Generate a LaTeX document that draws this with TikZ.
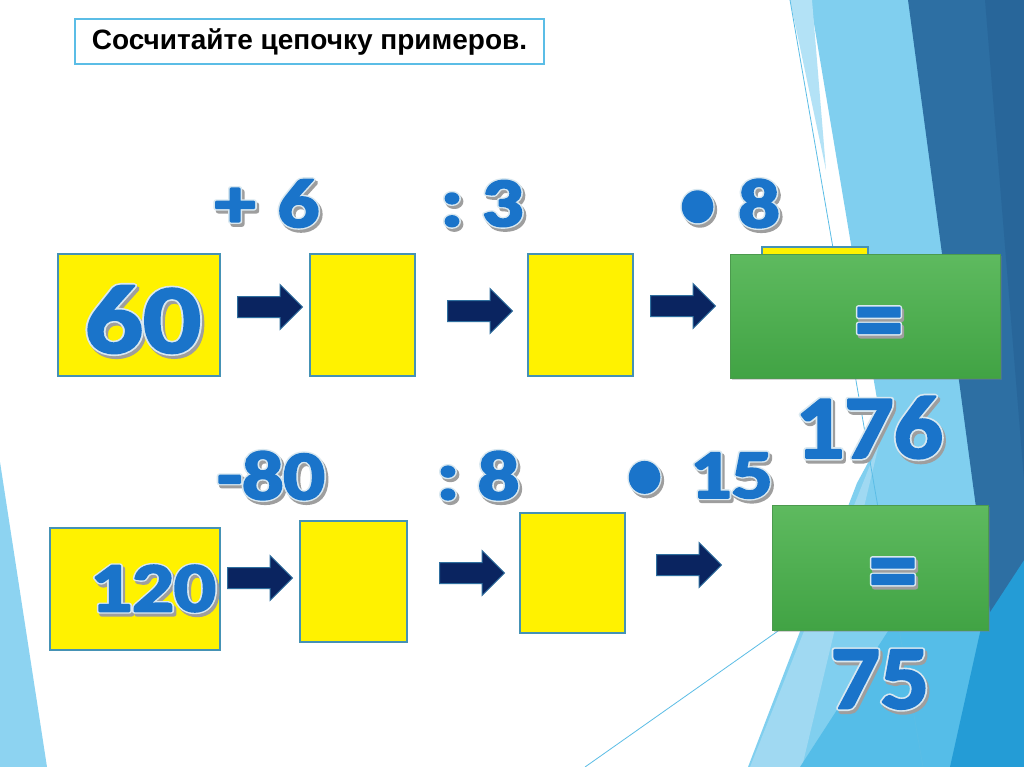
\documentclass[tikz,border=0pt]{standalone}
\usepackage{fontspec}
\usepackage{graphicx}
\newfontfamily\numfont{Carlito}
\newfontfamily\titlefont{Liberation Sans}
\usetikzlibrary{shapes.arrows,shadows}
\definecolor{numblue}{HTML}{1A74CA}
\definecolor{edgec}{HTML}{D9E8F0}
\definecolor{shadc}{HTML}{9E9E9E}
\definecolor{bgA}{HTML}{B3E2F6}
\definecolor{bgB}{HTML}{80CFEF}
\definecolor{bgC}{HTML}{A0D9F2}
\definecolor{bgD}{HTML}{55BDE8}
\definecolor{bgE}{HTML}{249CD6}
\definecolor{bgF}{HTML}{2D6FA3}
\definecolor{bgG}{HTML}{28669A}
\definecolor{bgL}{HTML}{8DD3F1}
\definecolor{lineC}{HTML}{5BBDE6}
\definecolor{ybord}{HTML}{4592B5}
\definecolor{navy}{HTML}{0A2460}
\definecolor{arredge}{HTML}{2F6F9F}
\definecolor{gtop}{HTML}{5EBA5F}
\definecolor{gbot}{HTML}{41A344}
\definecolor{gbord}{HTML}{4C9A4E}
% shadow, light outline below, emboldened blue text on top
\newcommand\fxt[2]{%
  \rlap{\kern2pt\raisebox{-3pt}{\color{shadc}\special{pdf:literal direct 2 Tr #1 w 1 j}#2\special{pdf:literal direct 0 Tr}}}%
  \rlap{\color{edgec}\special{pdf:literal direct 1 Tr #1 w 1 j}#2\special{pdf:literal direct 0 Tr}}%
  {\color{numblue}\special{pdf:literal direct 2 Tr 2.2 w 1 j}#2\special{pdf:literal direct 0 Tr}}}
% #1 size, #2 horizontal scale, #3 outline width, #4 text
\newcommand\bignum[4]{{\numfont\bfseries\fontsize{#1}{#1}\selectfont\scalebox{#2}[1]{\fxt{#3}{#4}}}}
\newcommand\bul{\scalebox{0.85}[1.05]{•}}
\begin{document}
\begin{tikzpicture}[x=1pt,y=-1pt,
  ybox/.style={draw=ybord,line width=1.8pt,fill=yellow,inner sep=0pt},
  gbox/.style={draw=gbord,line width=1pt,top color=gtop,bottom color=gbot,inner sep=0pt,
    drop shadow={shadow xshift=2pt,shadow yshift=-2pt,opacity=0.35}},
  barrow/.style={single arrow,fill=navy,draw=arredge,line width=1pt,inner sep=0pt,
    text height=20pt,text depth=0pt,text width=0pt,minimum height=65pt,
    single arrow head extend=12pt,single arrow head indent=0pt,anchor=west},
  num/.style={inner sep=0pt,outer sep=0pt},
  thinline/.style={draw=lineC,line width=0.8pt}]
\useasboundingbox (0,0) rectangle (1024,767);
\fill[white] (0,0) rectangle (1024,767);
% background facets
\fill[bgB] (810,0) -- (1024,0) -- (1024,767) -- (748,767) -- (857,483) -- (883,435) -- cycle;
\fill[bgA] (790,0) -- (812,0) -- (826,170) -- cycle;
\fill[bgC] (880,440) -- (750,767) -- (802,767) -- cycle;
\fill[bgD] (960,520) -- (1024,500) -- (1024,767) -- (800,767) -- cycle;
\fill[bgE] (1024,545) -- (1024,767) -- (950,767) -- (985,610) -- cycle;
\fill[bgF] (908,0) -- (1024,0) -- (1024,560) -- (990,612) -- cycle;
\fill[bgG] (985,0) -- (1024,0) -- (1024,480) -- cycle;
\fill[bgL] (0,462) -- (47,767) -- (0,767) -- cycle;
\draw[thinline] (790,0) -- (923,767);
\draw[thinline] (585,767) -- (900,545);
% title
\node[draw=lineC,line width=1.6pt,fill=white,minimum width=469pt,minimum height=45pt,inner sep=0pt,
  font=\titlefont\bfseries\fontsize{28}{28}\selectfont] (title) at (309.5,41.5) {Сосчитайте цепочку примеров.};
% row 1 boxes
\node[ybox,minimum width=162pt,minimum height=122pt] (a) at (139,315) {};
\node[ybox,minimum width=105pt,minimum height=122pt] (b) at (362.5,315) {};
\node[ybox,minimum width=105pt,minimum height=122pt] (c) at (580.5,315) {};
\node[ybox,minimum width=106pt,minimum height=122pt] (d) at (815,308) {};
\node[barrow] (ar1) at (237,307) {};
\node[barrow] (ar2) at (447,311) {};
\node[barrow] (ar3) at (650,306) {};
\node[gbox,minimum width=270pt,minimum height=124pt] (g1) at (865,316) {};
% row 2 boxes
\node[ybox,minimum width=170pt,minimum height=122pt] (e) at (135,589) {};
\node[ybox,minimum width=107pt,minimum height=121pt] (f) at (353.5,581.5) {};
\node[ybox,minimum width=105pt,minimum height=120pt] (h) at (572.5,573) {};
\node[barrow] (ar4) at (227,578) {};
\node[barrow] (ar5) at (439,573) {};
\node[barrow] (ar6) at (656,565) {};
\node[gbox,minimum width=216pt,minimum height=125pt] (g2) at (880,567.5) {};
% numbers
\node[num] (n60) at (143,321) {\bignum{98}{1.17}{5.5}{60}};
\node[num] (n120) at (153,590) {\bignum{70}{1.18}{5}{120}};
\node[num] (op1) at (267,205) {\bignum{69}{1.18}{5}{+\hspace{19pt}6}};
\node[num] (op2) at (482,205) {\bignum{69}{1.18}{5}{:\hspace{16pt}3}};
\node[num] (op3) at (730,205) {\bignum{69}{1.18}{5}{\bul\hspace{20pt}8}};
\node[num] (op4) at (271,477) {\bignum{69}{1.18}{5}{-80}};
\node[num] (op5) at (478,477) {\bignum{69}{1.18}{5}{:\hspace{16pt}8}};
\node[num] (op6) at (700,477) {\bignum{69}{1.18}{5}{\bul\hspace{24pt}15}};
\node[num] (eq1) at (879,331) {\bignum{98}{1.0}{5}{=}};
\node[num] (eq2) at (893,582) {\bignum{98}{1.0}{5}{=}};
\node[num] (r1) at (869,429) {\bignum{90}{1.08}{5.5}{176}};
\node[num] (r2) at (880,681) {\bignum{90}{1.08}{5.5}{75}};
\end{tikzpicture}
\end{document}
